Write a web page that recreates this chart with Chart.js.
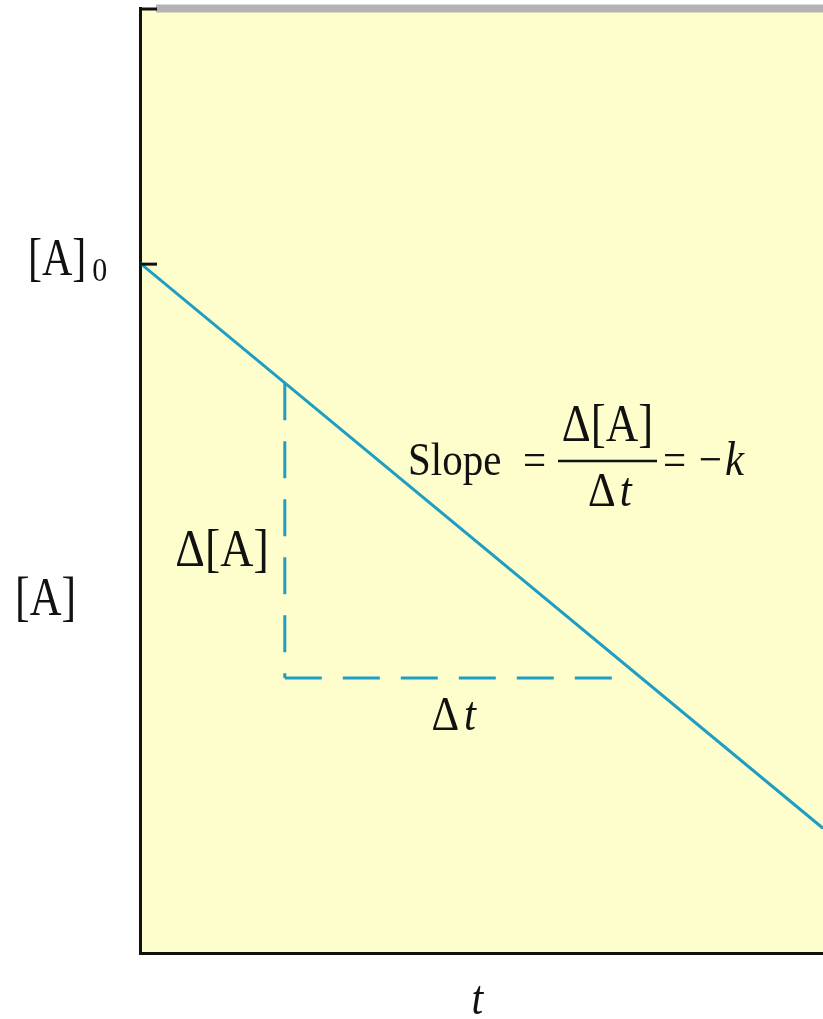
<!DOCTYPE html>
<html>
<head>
<meta charset="utf-8">
<script src="https://cdn.jsdelivr.net/npm/chart.js@4/dist/chart.umd.min.js"></script>
<style>
    html, body { margin: 0; padding: 0; background: #fff; }
    #wrap { width: 823px; height: 1019px; }
</style>
</head>
<body>
<div id="wrap"><canvas id="rate" width="823" height="1019"></canvas></div>
<script>
// zero-order decay: [A] falls linearly with time
const time = [0, 10];
const conc = [73, 13.2];

// slope triangle (vertical leg, then horizontal leg)
const legVx = [2.12, 2.12];
const legVy = [60.3, 29.1];
const legHx = [2.12, 7.0];
const legHy = [29.1, 29.1];

// inward ticks on the concentration axis
const yTicks = [100, 73];
const yTickLabels = ['', '[A]'];

const lineColor = '#1f9dc3';
const serif = '"Liberation Serif", "DejaVu Serif", serif';

const toPoints = (xs, ys) => xs.map((x, i) => ({ x: x, y: ys[i] }));

function txt(ctx, s, x, y, size, opts) {
    opts = opts || {};
    ctx.save();
    ctx.font = (opts.italic ? 'italic ' : '') + size + 'px ' + serif;
    ctx.fillStyle = '#111';
    ctx.textAlign = opts.align || 'left';
    ctx.textBaseline = 'alphabetic';
    ctx.translate(x, y);
    ctx.scale(1, opts.sy || 1.15);
    ctx.fillText(s, 0, 0);
    const w = ctx.measureText(s).width;
    ctx.restore();
    return w;
}

const paperPlugin = {
    id: 'paper',
    beforeDraw(chart) {
        const { ctx, chartArea: a } = chart;
        ctx.save();
        ctx.fillStyle = '#fefecc';
        ctx.fillRect(a.left, a.top, a.right - a.left, a.bottom - a.top);
        ctx.restore();
    },
    afterDraw(chart) {
        const { ctx, chartArea: a } = chart;
        const xs = chart.scales.x;
        const ys = chart.scales.y;

        // grey frame edge along the top
        ctx.save();
        ctx.strokeStyle = '#b3b3b3';
        ctx.lineWidth = 8;
        ctx.beginPath();
        ctx.moveTo(a.left + 16, a.top + 0.5);
        ctx.lineTo(a.right, a.top + 0.5);
        ctx.stroke();

        // ticks pointing into the plot
        ctx.strokeStyle = '#111';
        ctx.lineWidth = 3;
        yTicks.forEach(v => {
            const py = ys.getPixelForValue(v) + 1;
            ctx.beginPath();
            ctx.moveTo(a.left, py);
            ctx.lineTo(a.left + 17, py);
            ctx.stroke();
        });
        ctx.restore();

        // [A]0 label at the starting concentration
        const y0 = ys.getPixelForValue(yTicks[1]);
        const w0 = txt(ctx, yTickLabels[1], 28, y0 + 12, 42, { sy: 1.25 });
        txt(ctx, '0', 28 + w0 + 6, y0 + 18, 30, { sy: 1.15 });

        // axis titles
        txt(ctx, '[A]', 15, 615, 44, { sy: 1.25 });
        txt(ctx, 't', (a.left + a.right) / 2 - 10, 1014, 42, { italic: true, sy: 1.15 });

        // triangle labels
        const vx = xs.getPixelForValue(legVx[0]);
        const vMid = (ys.getPixelForValue(legVy[0]) + ys.getPixelForValue(legVy[1])) / 2;
        txt(ctx, 'Δ[A]', vx - 16, vMid + 35, 46, { align: 'right', sy: 1.15 });
        const hMid = (xs.getPixelForValue(legHx[0]) + xs.getPixelForValue(legHx[1])) / 2;
        const hy = ys.getPixelForValue(legHy[0]);
        const wd = txt(ctx, 'Δ', hMid - 20, hy + 52, 43);
        txt(ctx, 't', hMid - 20 + wd + 5, hy + 52, 43, { italic: true });

        // slope equation
        const base = 475;
        txt(ctx, 'Slope', 408, base, 41);
        txt(ctx, '=', 523, base, 41);
        const fx = 558, fw = 99;
        txt(ctx, 'Δ[A]', fx + fw / 2, base - 34, 45, { align: 'center' });
        ctx.save();
        ctx.strokeStyle = '#111';
        ctx.lineWidth = 2.5;
        ctx.beginPath();
        ctx.moveTo(fx, base - 14);
        ctx.lineTo(fx + fw, base - 14);
        ctx.stroke();
        ctx.restore();
        const wdd = txt(ctx, 'Δ', fx + 30, base + 31, 43);
        txt(ctx, 't', fx + 30 + wdd + 4, base + 31, 43, { italic: true });
        txt(ctx, '=', 663, base, 41);
        txt(ctx, '−', 699, base, 41);
        txt(ctx, 'k', 725, base, 43, { italic: true });
    }
};

new Chart(document.getElementById('rate'), {
    type: 'scatter',
    data: {
        datasets: [
            {
                data: toPoints(time, conc),
                showLine: true,
                borderColor: lineColor,
                borderWidth: 3,
                pointRadius: 0
            },
            {
                data: toPoints(legVx, legVy),
                showLine: true,
                borderColor: lineColor,
                borderWidth: 3,
                borderDash: [37, 21],
                pointRadius: 0
            },
            {
                data: toPoints(legHx, legHy),
                showLine: true,
                borderColor: lineColor,
                borderWidth: 3,
                borderDash: [37, 21],
                pointRadius: 0
            }
        ]
    },
    options: {
        responsive: false,
        animation: false,
        devicePixelRatio: 1,
        layout: { padding: { top: 8, right: 0, left: 0, bottom: 0 } },
        plugins: {
            legend: { display: false },
            tooltip: { enabled: false }
        },
        scales: {
            x: {
                type: 'linear',
                min: 0,
                max: 10,
                grid: { display: false },
                ticks: { display: false },
                border: { color: '#111', width: 3 },
                afterFit: s => { s.height = 66; }
            },
            y: {
                type: 'linear',
                min: 0,
                max: 100,
                grid: { display: false },
                ticks: { display: false },
                border: { color: '#111', width: 3 },
                afterFit: s => { s.width = 140; }
            }
        }
    },
    plugins: [paperPlugin]
});
</script>
</body>
</html>
